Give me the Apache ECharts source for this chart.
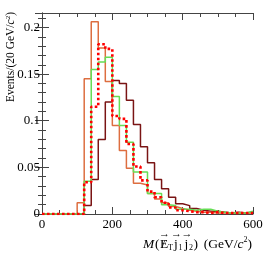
<!DOCTYPE html>
<html><head><meta charset="utf-8">
<script src="https://cdn.jsdelivr.net/npm/echarts@6/dist/echarts.min.js"></script>
<style>html,body{margin:0;padding:0;background:#fff}#c{width:266px;height:255px}</style>
</head><body><div id="c"></div>
<script>
// bin lower edges (GeV), 20 GeV bins
const binEdges = [0,20,40,60,80,100,120,140,160,180,200,220,240,260,280,300,320,340,360,380,400,420,440,460,480,500,520,540,560,580];
const xMax = 600;
const yTickLabels = ['0','0.05','0.1','0.15','0.2'];
const xTickLabels = ['0','200','400','600'];
const darkRed = [0,0,0,0,0,0,0.009,0.037,0.080,0.120,0.143,0.140,0.122,0.096,0.072,0.055,0.037,0.027,0.018,0.011,0.009,0.006,0.004,0.003,0.003,0.002,0.001,0.002,0.001,0.002];
const orange  = [0,0,0,0,0,0.012,0.145,0.206,0.178,0.142,0.095,0.068,0.049,0.033,0.031,0.022,0.016,0.012,0.008,0.006,0.004,0.003,0.002,0.002,0.001,0.001,0.001,0.001,0.001,0.001];
const green   = [0,0,0,0,0,0,0.035,0.155,0.163,0.168,0.126,0.095,0.077,0.045,0.045,0.022,0.022,0.010,0.009,0.005,0.005,0.004,0.005,0.005,0.003,0.002,0.001,0.001,0.001,0.003];
const redDot  = [0,0,0,0,0,0,0.034,0.115,0.182,0.177,0.105,0.102,0.075,0.051,0.036,0.024,0.018,0.012,0.007,0.004,0.003,0.002,0.002,0.001,0.002,0.001,0.001,0.001,0.001,0.001];

function hist(vals){
  const d = binEdges.map((e,i)=>[e, vals[i]]);
  d.push([xMax, vals[vals.length-1]]);
  return d;
}
const font = 'Liberation Serif';
const axisCol = '#444';
const chart = echarts.init(document.getElementById('c'), null, {renderer:'canvas'});
const yAxBase = {type:'value', min:0, max:0.2155, interval:0.05,
  axisLine:{show:true, lineStyle:{color:axisCol, width:1}},
  axisTick:{show:true, inside:true, length:7, lineStyle:{color:axisCol}},
  minorTick:{show:true, splitNumber:5, length:4, lineStyle:{color:axisCol}},
  splitLine:{show:false}};
const xAxBase = {type:'value', min:0, max:xMax, interval:200,
  axisLine:{show:true, onZero:false, lineStyle:{color:axisCol, width:1}},
  axisTick:{show:true, inside:true, length:7, lineStyle:{color:axisCol}},
  minorTick:{show:true, splitNumber:4, length:4, lineStyle:{color:axisCol}},
  splitLine:{show:false}};
function mk(name, vals, color, width, dash, z){
  return {name, type:'line', step:'end', data:hist(vals), showSymbol:false, symbol:'none',
    lineStyle:{color, width, type: dash||'solid', cap:'butt'}, z:z, silent:true};
}
function t(x, y, text, size, extra){
  return {type:'text', x, y, silent:true,
    style:Object.assign({text, fontFamily:font, fontSize:size, fill:'#000', align:'left', verticalAlign:'middle'}, extra||{})};
}
const ty = 244;
const fs = 13.5;
chart.setOption({
  animation:false,
  grid:{left:42, right:13, top:13, bottom:41},
  xAxis:[
    Object.assign({}, xAxBase, {position:'bottom',
      axisLabel:{show:true, fontFamily:font, fontSize:13, color:'#000', margin:4,
        formatter:v=>{const s=String(Math.round(v)); return xTickLabels.includes(s)?s:'';}}}),
    Object.assign({}, xAxBase, {position:'top', axisLabel:{show:false}})
  ],
  yAxis:[
    Object.assign({}, yAxBase, {position:'left',
      axisLabel:{show:true, fontFamily:font, fontSize:13, color:'#000', margin:2, showMaxLabel:false,
        formatter:v=>{const s=String(+(+v).toFixed(3)); return yTickLabels.includes(s)?s:'';}}}),
    Object.assign({}, yAxBase, {position:'right', axisLabel:{show:false}})
  ],
  series:[
    mk('darkred', darkRed, '#7a1414', 1.5, null, 2),
    mk('orange', orange, '#dd6e40', 1.5, null, 3),
    mk('green', green, '#66dd55', 1.5, null, 4),
    mk('red', redDot, '#ff0000', 2.6, [2.6,2.4], 5)
  ],
  graphic:[
    {type:'text', x:11, y:12, rotation:Math.PI/2, silent:true,
      style:{text:'Events/(20 GeV/{i|c}{s|2})', fontFamily:font, fontSize:11.5, fill:'#000',
        align:'right', verticalAlign:'middle',
        rich:{i:{fontStyle:'italic', fontFamily:font, fontSize:11.5}, s:{fontFamily:font, fontSize:7, padding:[0,0,6,0]}}}},
    // x-axis title pieces: M( E-slash_T  j1  j2 ) (GeV/c^2), with vector arrows
    t(143, ty, 'M', fs, {fontStyle:'italic'}),
    t(155, ty, '(', fs),
    t(160, ty, 'E', fs),
    t(161.5, ty, '/', fs),
    t(168, ty+4, 'T', 8),
    t(159, ty-9.5, '\u2192', 11),
    t(174, ty, 'j', fs),
    t(178.5, ty+4, '1', 8),
    t(171, ty-9.5, '\u2192', 11),
    t(184.5, ty, 'j', fs),
    t(189, ty+4, '2', 8),
    t(181.5, ty-9.5, '\u2192', 11),
    t(193.5, ty, ')', fs),
    {type:'text', x:252, y:ty, silent:true,
      style:{text:'(GeV/{i|c}{s|2})', fontFamily:font, fontSize:13.5, fill:'#000', align:'right', verticalAlign:'middle',
        rich:{i:{fontStyle:'italic', fontFamily:font, fontSize:13.5},
              s:{fontFamily:font, fontSize:8, padding:[0,0,8,0]}}}}
  ]
});
</script></body></html>
